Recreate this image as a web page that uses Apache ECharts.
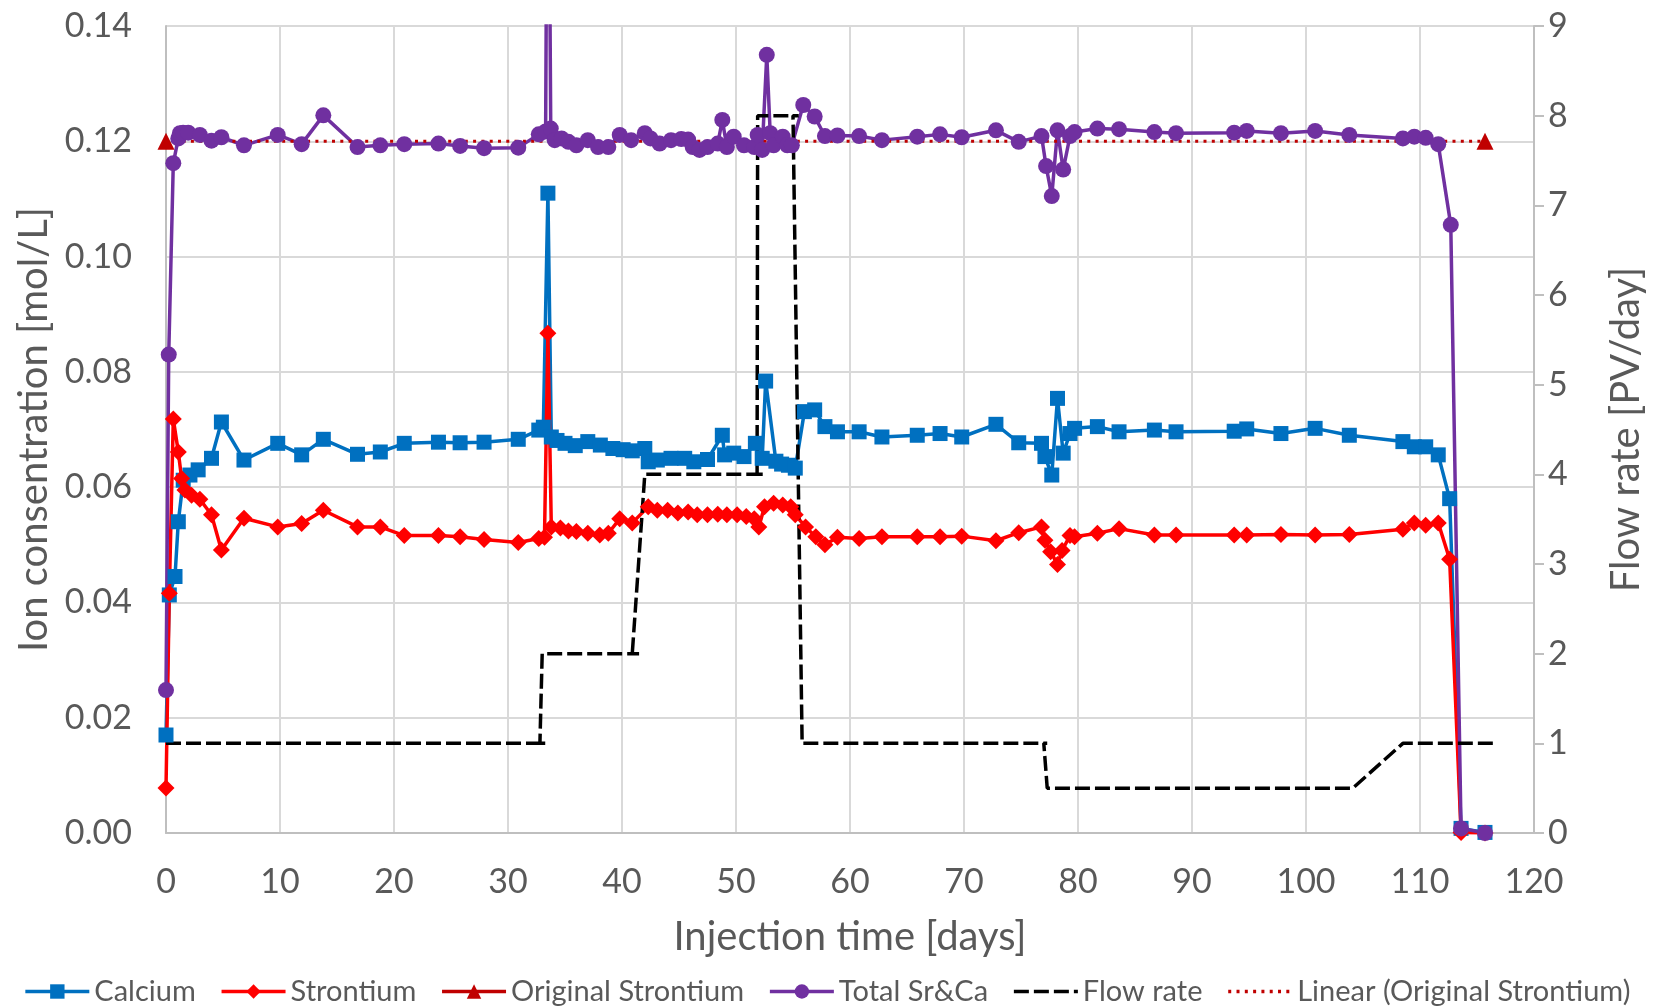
<!DOCTYPE html>
<html>
<head>
<meta charset="utf-8">
<script src="https://cdn.jsdelivr.net/npm/echarts/dist/echarts.min.js"></script>
<style>
html, body { margin: 0; padding: 0; background: #fff; }
#chart { width: 1654px; height: 1008px; }
</style>
</head>
<body>
<div id="chart"></div>
<script>
// Calcium
var caDays = [0, 0.29, 0.79, 1.08, 1.51, 2.1, 2.82, 3.99, 4.86, 6.84, 9.8, 11.9, 13.8, 16.8, 18.8, 20.9, 23.9, 25.8, 27.9, 30.9,
  32.7, 33.1, 33.5, 33.8, 34.3, 35.0, 35.9, 37.0, 38.1, 39.2, 40.1, 40.9, 42.0, 42.3, 43.1, 44.3, 45.5, 46.3, 47.5, 48.8,
  49.0, 49.8, 50.7, 51.7, 52.3, 52.6, 53.5, 54.0, 54.6, 55.2, 56.0, 56.9, 57.8, 58.9, 60.8, 62.8, 65.9, 67.9, 69.8, 72.8,
  74.8, 76.8, 77.1, 77.7, 78.2, 78.7, 79.3, 79.7, 81.7, 83.6, 86.7, 88.6, 93.7, 94.8, 97.8, 100.8, 103.8, 108.5, 109.5, 110.5,
  111.6, 112.6, 113.6, 115.7];
var caVals = [0.017, 0.0413, 0.0445, 0.054, 0.0612, 0.0621, 0.063, 0.065, 0.0713, 0.0647, 0.0676, 0.0656, 0.0683, 0.0657, 0.0661, 0.0676, 0.0678, 0.0677, 0.0678, 0.0683,
  0.0699, 0.0704, 0.111, 0.0687, 0.0681, 0.0676, 0.0672, 0.0679, 0.0673, 0.0667, 0.0665, 0.0663, 0.0667, 0.0644, 0.0647, 0.065, 0.065, 0.0644, 0.0648, 0.069,
  0.0656, 0.0659, 0.0653, 0.0676, 0.065, 0.0784, 0.0645, 0.064, 0.0638, 0.0633, 0.0731, 0.0734, 0.0705, 0.0696, 0.0696, 0.0687, 0.069, 0.0693, 0.0687, 0.0709,
  0.0677, 0.0676, 0.0653, 0.0621, 0.0754, 0.0659, 0.0693, 0.0702, 0.0705, 0.0696, 0.0699, 0.0696, 0.0697, 0.0701, 0.0693, 0.0702, 0.069, 0.0679, 0.067, 0.067,
  0.0656, 0.058, 0.0008, 0.0001];

// Strontium
var srDays = [0, 0.29, 0.64, 1.08, 1.37, 1.66, 2.24, 2.97, 3.99, 4.86, 6.84, 9.8, 11.9, 13.8, 16.8, 18.8, 20.9, 23.9, 25.8, 27.9,
  30.9, 32.7, 33.2, 33.5, 33.8, 34.6, 35.3, 36.0, 37.0, 38.05, 38.8, 39.8, 40.9, 42.3, 43.1, 44.0, 44.9, 45.8, 46.6, 47.5,
  48.4, 49.2, 50.1, 50.9, 51.6, 52.0, 52.5, 53.3, 54.1, 54.8, 55.2, 56.1, 57.0, 57.8, 58.9, 60.8, 62.8, 65.9, 67.9, 69.8,
  72.8, 74.8, 76.8, 77.1, 77.6, 78.2, 78.6, 79.3, 79.7, 81.7, 83.6, 86.7, 88.6, 93.7, 94.8, 97.8, 100.8, 103.8, 108.5, 109.5,
  110.5, 111.6, 112.6, 113.6, 115.7];
var srVals = [0.0078, 0.0416, 0.0718, 0.0661, 0.0615, 0.0595, 0.0586, 0.0579, 0.0552, 0.0491, 0.0546, 0.0531, 0.0537, 0.056, 0.0531, 0.0531, 0.0516, 0.0516, 0.0514, 0.0509,
  0.0504, 0.0511, 0.0513, 0.0867, 0.0531, 0.0529, 0.0524, 0.0523, 0.052, 0.0517, 0.052, 0.0545, 0.0538, 0.0566, 0.056, 0.056, 0.0555, 0.0557, 0.0552, 0.0552,
  0.0553, 0.0552, 0.0552, 0.0549, 0.0545, 0.0531, 0.0566, 0.0572, 0.0569, 0.0566, 0.0552, 0.0531, 0.0514, 0.05, 0.0513, 0.0511, 0.0514, 0.0514, 0.0514, 0.0515,
  0.0507, 0.0521, 0.0531, 0.0508, 0.0488, 0.0466, 0.049, 0.0516, 0.0514, 0.052, 0.0528, 0.0517, 0.0517, 0.0517, 0.0517, 0.0518, 0.0517, 0.0518, 0.0527, 0.0538,
  0.0534, 0.0538, 0.0475, 0.0001, 0.0];

// Original Strontium
var origDays = [0, 115.7];
var origVals = [0.12, 0.12];

// Total Sr&Ca
var totDays = [0, 0.24, 0.64, 1.08, 1.22, 1.5, 1.95, 2.97, 3.99, 4.86, 6.84, 9.8, 11.9, 13.8, 16.8, 18.8, 20.9, 23.9, 25.8, 27.9,
  30.9, 32.7, 33.3, 33.5, 33.75, 34.1, 34.7, 35.3, 36.0, 37.0, 37.9, 38.8, 39.8, 40.8, 42.0, 42.5, 43.3, 44.3, 45.2, 45.8,
  46.2, 46.8, 47.5, 48.4, 48.8, 49.2, 49.8, 50.7, 51.6, 51.9, 52.3, 52.7, 53.0, 53.3, 54.1, 54.5, 54.9, 55.9, 56.9, 57.8,
  58.9, 60.8, 62.8, 65.9, 67.9, 69.8, 72.8, 74.8, 76.8, 77.2, 77.7, 78.2, 78.7, 79.3, 79.7, 81.7, 83.6, 86.7, 88.6, 93.7,
  94.8, 97.8, 100.8, 103.8, 108.5, 109.5, 110.5, 111.6, 112.7, 113.6, 115.7];
var totVals = [0.0248, 0.083, 0.1162, 0.1205, 0.1214, 0.1215, 0.1215, 0.1211, 0.1201, 0.1207, 0.1193, 0.1211, 0.1195, 0.1245, 0.119, 0.1193, 0.1195, 0.1196, 0.1192, 0.1188,
  0.1189, 0.1212, 0.1217, 0.198, 0.1222, 0.1202, 0.1205, 0.1199, 0.1193, 0.1202, 0.119, 0.119, 0.1211, 0.1202, 0.1214, 0.1205, 0.1196, 0.1202, 0.1204, 0.1203,
  0.119, 0.1185, 0.119, 0.1196, 0.1237, 0.119, 0.1208, 0.1193, 0.119, 0.1211, 0.1185, 0.135, 0.1214, 0.1193, 0.1208, 0.1193, 0.1193, 0.1263, 0.1243, 0.1209,
  0.121, 0.1209, 0.1202, 0.1208, 0.1212, 0.1207, 0.1219, 0.1199, 0.1209, 0.1157, 0.1105, 0.1219, 0.1151, 0.1209, 0.1216, 0.1222, 0.1221, 0.1216, 0.1214, 0.1215,
  0.1218, 0.1214, 0.1218, 0.1211, 0.1205, 0.1208, 0.1206, 0.1195, 0.1055, 0.0008, 0.0];

// Flow rate (right axis)
var flowDays = [0, 33.3, 32.8, 33.0, 41.5, 40.9, 42.0, 52.5, 51.85, 51.9, 55.5, 55.0, 55.8, 77.3, 77.0, 77.3, 104.1, 108.5, 116.4];
var flowVals = [1, 1, 1, 2, 2, 2, 4, 4, 4, 8, 8, 8, 1, 1, 1, 0.5, 0.5, 1, 1];

// Linear (Original Strontium) trendline
var trendDays = [0, 115.7];
var trendVals = [0.12, 0.12];

var xTicks = [0, 120, 10];
var leftTicks = [0, 0.14, 0.02];
var rightTicks = [0, 9, 1];

function pairs(xs, ys) {
  return xs.map(function (d, i) { return [d, ys[i]]; });
}

var grey = '#595959';
var font = 'Lato, "Liberation Sans", sans-serif';

var myChart = echarts.init(document.getElementById('chart'));
var option = {
  animation: false,
  backgroundColor: '#fff',
  textStyle: { fontFamily: font },
  grid: { left: 166, right: 114, top: 26, bottom: 175, containLabel: false },
  legend: {
    bottom: 2,
    left: 'center',
    padding: 0,
    itemWidth: 64,
    itemHeight: 18,
    itemGap: 24,
    lineStyle: { width: 3.5 },
    textStyle: { fontSize: 29, color: grey, fontFamily: font },
    data: [
      { name: 'Calcium' },
      { name: 'Strontium' },
      { name: 'Original Strontium', lineStyle: { width: 3.5, opacity: 1, color: '#C00000' } },
      { name: 'Total Sr&Ca' },
      { name: 'Flow rate', itemStyle: { opacity: 0 } },
      { name: 'Linear (Original Strontium)', itemStyle: { opacity: 0 } }
    ]
  },
  xAxis: {
    type: 'value',
    min: xTicks[0], max: xTicks[1], interval: xTicks[2],
    name: 'Injection time [days]',
    nameLocation: 'middle',
    nameGap: 84,
    nameTextStyle: { fontSize: 40, color: grey, fontFamily: font },
    axisLine: { show: true, lineStyle: { color: '#BFBFBF', width: 2 } },
    axisTick: { show: false },
    axisLabel: { fontSize: 34, color: grey, margin: 32 },
    splitLine: { show: true, lineStyle: { color: '#D9D9D9', width: 2 } }
  },
  yAxis: [
    {
      type: 'value',
      min: leftTicks[0], max: leftTicks[1], interval: leftTicks[2],
      name: 'Ion consentration [mol/L]',
      nameLocation: 'middle',
      nameRotate: 90,
      nameGap: 112,
      nameTextStyle: { fontSize: 40, color: grey, fontFamily: font },
      axisLine: { show: true, lineStyle: { color: '#BFBFBF', width: 2 } },
      axisTick: { show: false },
      axisLabel: { fontSize: 34, color: grey, margin: 34, formatter: function (v) { return v.toFixed(2); } },
      splitLine: { show: true, lineStyle: { color: '#D9D9D9', width: 2 } }
    },
    {
      type: 'value',
      position: 'right',
      min: rightTicks[0], max: rightTicks[1], interval: rightTicks[2],
      name: 'Flow rate [PV/day]',
      nameLocation: 'middle',
      nameRotate: 90,
      nameGap: 72,
      nameTextStyle: { fontSize: 40, color: grey, fontFamily: font },
      axisLine: { show: true, lineStyle: { color: '#BFBFBF', width: 2 } },
      axisTick: { show: true, inside: false, length: 10, lineStyle: { color: '#BFBFBF', width: 2 } },
      axisLabel: { fontSize: 34, color: grey, margin: 14 },
      splitLine: { show: false }
    }
  ],
  series: [
    {
      name: 'Calcium', type: 'line', data: pairs(caDays, caVals),
      symbol: 'rect', symbolSize: 15,
      itemStyle: { color: '#0070C0' },
      lineStyle: { color: '#0070C0', width: 3.5 }
    },
    {
      name: 'Strontium', type: 'line', data: pairs(srDays, srVals),
      symbol: 'diamond', symbolSize: 17,
      itemStyle: { color: '#FF0000' },
      lineStyle: { color: '#FF0000', width: 3.5 }
    },
    {
      name: 'Original Strontium', type: 'line', data: pairs(origDays, origVals),
      symbol: 'triangle', symbolSize: 17,
      itemStyle: { color: '#C00000' },
      lineStyle: { color: '#C00000', width: 0, opacity: 0 }
    },
    {
      name: 'Total Sr&Ca', type: 'line', data: pairs(totDays, totVals),
      symbol: 'circle', symbolSize: 16,
      itemStyle: { color: '#7030A0' },
      lineStyle: { color: '#7030A0', width: 3.5 }
    },
    {
      name: 'Flow rate', type: 'line', yAxisIndex: 1, data: pairs(flowDays, flowVals),
      symbol: 'none', showSymbol: false,
      itemStyle: { color: '#000' },
      lineStyle: { color: '#000', width: 3.5, type: [15, 5] }
    },
    {
      name: 'Linear (Original Strontium)', type: 'line', data: pairs(trendDays, trendVals),
      symbol: 'none', showSymbol: false,
      itemStyle: { color: '#C00000' },
      lineStyle: { color: '#C00000', width: 3, type: [3, 5.3] }
    }
  ]
};
myChart.setOption(option);
</script>
</body>
</html>
